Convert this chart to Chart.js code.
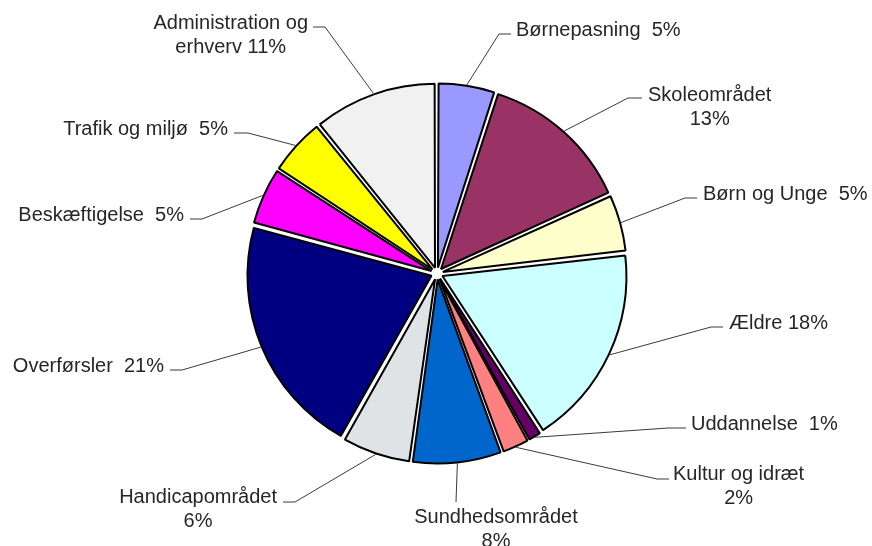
<!DOCTYPE html>
<html lang="da">
<head>
    <meta charset="UTF-8">
    <title>Udgifter fordelt på områder</title>
    <script src="https://cdn.jsdelivr.net/npm/chart.js"></script>
    <style>
        html, body { margin: 0; padding: 0; background: #fff; }
        #wrap { width: 872px; height: 546px; }
    </style>
</head>
<body>
    <div id="wrap"><canvas id="pie" width="872" height="546"></canvas></div>

    <script>
        // data, med uret fra kl. 12
        const categories = ['Børnepasning', 'Skoleområdet', 'Børn og Unge', 'Ældre', 'Uddannelse',
            'Kultur og idræt', 'Sundhedsområdet', 'Handicapområdet', 'Overførsler',
            'Beskæftigelse', 'Trafik og miljø', 'Administration og erhverv'];
        const values = [5, 13.2, 5, 17.6, 1.2, 2.4, 7.8, 6, 21, 5, 5, 10.8];
        const colors = ['#9999FF', '#993366', '#FFFFCC', '#CCFFFF', '#660066', '#FF8080',
            '#0066CC', '#DFE3E6', '#000080', '#FF00FF', '#FFFF00', '#F1F1F1'];

        // label tekst: {n} = navn, {p} = procent, \n = linjeskift
        const labelFormats = ['{n}  {p}', '{n}\n{p}', '{n}  {p}', '{n} {p}', '{n}  {p}', '{n}\n{p}',
            '{n}\n{p}', '{n}\n{p}', '{n}  {p}', '{n}  {p}', '{n}  {p}', 'Administration og\nerhverv {p}'];

        // placering af labels og knæk på streger (ex,ey = knæk, hx = streg slut, tx,ty = tekst)
        const labelLayout = [
            { ex: 499, ey: 34,  hx: 511, tx: 516, ty: 36,  align: 'left' },
            { ex: 628, ey: 98,  hx: 642, tx: 648, ty: 101, align: 'left' },
            { ex: 685, ey: 198, hx: 697, tx: 703, ty: 200, align: 'left' },
            { ex: 711, ey: 327, hx: 723, tx: 729, ty: 329, align: 'left' },
            { ex: 668, ey: 428, hx: 686, tx: 691, ty: 430, align: 'left' },
            { ex: 657, ey: 479, hx: 669, tx: 673, ty: 480, align: 'left' },
            { ex: 456, ey: 502, hx: 456, tx: 496, ty: 523, align: 'center' },
            { ex: 295, ey: 502, hx: 283, tx: 277, ty: 503, align: 'right' },
            { ex: 182, ey: 370, hx: 170, tx: 164, ty: 372, align: 'right' },
            { ex: 202, ey: 219, hx: 190, tx: 184, ty: 221, align: 'right' },
            { ex: 248, ey: 133, hx: 234, tx: 228, ty: 135, align: 'right' },
            { ex: 325, ey: 27,  hx: 313, tx: 308, ty: 29,  align: 'right' }
        ];

        const pieRadius = 184;
        const explode = 6;   // px, chart.js deler offset med 4
        const total = values.reduce((a, b) => a + b, 0);

        function labelLines(i) {
            const pct = Math.round(values[i] / total * 100) + '%';
            return labelFormats[i].replace('{n}', categories[i]).replace('{p}', pct).split('\n');
        }

        const leaderLabels = {
            id: 'leaderLabels',
            beforeDatasetsDraw(chart) {
                // samme radius på alle stykker, selvom de er skudt ud
                chart.getDatasetMeta(0).data.forEach(arc => {
                    const fix = 1 - Math.sin(Math.min(Math.PI, arc.circumference));
                    arc.outerRadius = pieRadius - explode * fix;
                });
            },
            afterDatasetsDraw(chart) {
                const ctx = chart.ctx;
                ctx.save();
                ctx.font = '20px "Liberation Sans", Arial, sans-serif';
                ctx.strokeStyle = '#3a3a3a';
                ctx.lineWidth = 1;
                ctx.fillStyle = '#262626';
                ctx.textAlign = 'center';
                ctx.textBaseline = 'alphabetic';
                chart.getDatasetMeta(0).data.forEach((arc, i) => {
                    const L = labelLayout[i];
                    const mid = (arc.startAngle + arc.endAngle) / 2;
                    const r = pieRadius + explode + 1;
                    const ax = arc.x + Math.cos(mid) * r;
                    const ay = arc.y + Math.sin(mid) * r;
                    ctx.beginPath();
                    ctx.moveTo(ax, ay);
                    ctx.lineTo(L.ex, L.ey);
                    ctx.lineTo(L.hx, L.ey);
                    ctx.stroke();

                    const lines = labelLines(i);
                    const w = Math.max(...lines.map(t => ctx.measureText(t).width));
                    let cx = L.tx;
                    if (L.align === 'left') cx = L.tx + w / 2;
                    if (L.align === 'right') cx = L.tx - w / 2;
                    lines.forEach((t, k) => ctx.fillText(t, cx, L.ty + k * 24));
                });
                ctx.restore();
            }
        };

        const ctx = document.getElementById('pie').getContext('2d');
        const pieChart = new Chart(ctx, {
            type: 'pie',
            data: {
                labels: categories,
                datasets: [{
                    data: values,
                    backgroundColor: colors,
                    borderColor: '#000000',
                    borderWidth: 2,
                    offset: explode * 4,
                    radius: pieRadius
                }]
            },
            options: {
                responsive: false,
                animation: false,
                layout: { padding: { left: 2, right: 0, top: 1, bottom: 0 } },
                plugins: {
                    legend: { display: false },
                    tooltip: { enabled: false }
                }
            },
            plugins: [leaderLabels]
        });
    </script>
</body>
</html>
